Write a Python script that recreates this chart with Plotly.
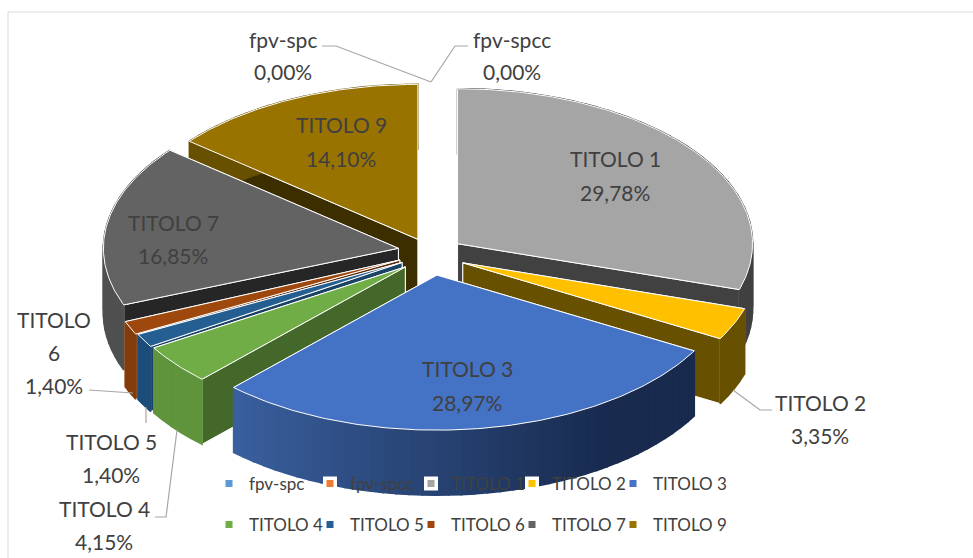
import math
import plotly.graph_objects as go

# ---- data ----
categories = ["fpv-spc", "fpv-spcc", "TITOLO 1", "TITOLO 2", "TITOLO 3",
              "TITOLO 4", "TITOLO 5", "TITOLO 6", "TITOLO 7", "TITOLO 9"]
values = [0.00, 0.00, 29.78, 3.35, 28.97, 4.15, 1.40, 1.40, 16.85, 14.10]

# ---- styles ----
top_colors = ["#5B9BD5", "#ED7D31", "#A5A5A5", "#FFC000", "#4472C4",
              "#70AD47", "#255E91", "#9E480E", "#636363", "#997300"]
cut_colors = ["#3A6A96", "#8F4C1E", "#414141", "#675000", "#1B2C4E",
              "#44672A", "#1A4366", "#5F2B08", "#262626", "#3D2E00"]
rim_left = ["#5B9BD5", "#ED7D31", "#414141", "#675000", "#3A609F",
            "#5F943D", "#1C4D7A", "#843C0C", "#505050", "#675000"]
rim_right = ["#5B9BD5", "#ED7D31", "#414141", "#675000", "#182A4E",
             "#5F943D", "#1C4D7A", "#843C0C", "#505050", "#675000"]
draw_order = ["TITOLO 9", "TITOLO 1", "TITOLO 7", "TITOLO 6", "TITOLO 5",
              "TITOLO 4", "TITOLO 2", "TITOLO 3"]

CX, CY, RX, RY, EXPLODE, DEPTH = 431, 254, 295, 155, 33, 65
TEXT = "#404040"
FONT = "Lato"

# small per-slice placement corrections (layout only)
nudge = {
    "TITOLO 2": (1.5, 2), "TITOLO 3": (1, 4), "TITOLO 4": (0, 2), "TITOLO 5": (0, 3),
    "TITOLO 6": (-1, 4), "TITOLO 7": (0, -3), "TITOLO 9": (1, 1),
}
# the picture has some perspective: thin slices close up toward the centre
apex_nudge = {"TITOLO 5": -3, "TITOLO 6": -5}

# label anchor points per category: (x, y of name line(s)), y of value line
label_lines = {
    "fpv-spc": (283, [39], 71),
    "fpv-spcc": (512, [39], 71),
    "TITOLO 1": (615, [158], 192),
    "TITOLO 2": (820, [402], 435),
    "TITOLO 3": (467, [368], 402),
    "TITOLO 4": (104, [508], 541),
    "TITOLO 5": (111, [441], 474),
    "TITOLO 6": (54, [319, 352], 385),
    "TITOLO 7": (173, [222], 255),
    "TITOLO 9": (341, [124], 158),
}
leaders = [
    ([322, 336, 431], [46, 46, 82]),
    ([468, 455, 431], [46, 46, 82]),
    ([772, 760, 733], [410, 410, 390]),
    ([89, 133], [390, 393]),
    ([146, 146], [407, 423]),
    ([155, 166, 177], [517, 517, 430]),
]


def mix(c1, c2, t):
    a = [int(c1[i:i + 2], 16) for i in (1, 3, 5)]
    b = [int(c2[i:i + 2], 16) for i in (1, 3, 5)]
    return "#" + "".join(f"{round(p + (q - p) * t):02X}" for p, q in zip(a, b))


def pt(ox, oy, deg, r=1.0):
    th = math.radians(deg)
    return ox + RX * r * math.sin(th), oy - RY * r * math.cos(th)


def poly(xs, ys, fill, line="#FFFFFF", width=1.0):
    return go.Scatter(x=xs + xs[:1], y=ys + ys[:1], mode="lines", fill="toself",
                      fillcolor=fill, line=dict(color=line, width=width),
                      hoverinfo="skip", showlegend=False)


# spans of each slice from the values
total = sum(values)
spans = {}
acc = 0.0
for name, v in zip(categories, values):
    spans[name] = (acc / total * 360, (acc + v) / total * 360)
    acc += v

fig = go.Figure()

for name in draw_order:
    i = categories.index(name)
    a0, a1 = spans[name]
    mid_deg = (a0 + a1) / 2
    mid = math.radians(mid_deg)
    dx, dy = nudge.get(name, (0, 0))
    ox = CX + EXPLODE * math.sin(mid) + dx
    oy = CY - EXPLODE * math.cos(mid) * RY / RX + dy
    ay = oy + apex_nudge.get(name, 0)
    # cut faces, the one turned toward the viewer last
    for a in ((a1, a0) if mid_deg > 180 else (a0, a1)):
        x, y = pt(ox, oy, a)
        fig.add_trace(poly([ox, x, x, ox], [ay, y, y + DEPTH, ay + DEPTH], cut_colors[i]))
    # outer rim, in short strips so that it can shade across the width
    n = max(3, int((a1 - a0) / 2.5))
    for k in range(n):
        s0 = a0 + (a1 - a0) * k / n
        s1 = a0 + (a1 - a0) * (k + 1) / n
        x0, y0 = pt(ox, oy, s0)
        x1, y1 = pt(ox, oy, s1)
        t = max(0.0, ((k + 0.5) / n - 0.25) / 0.75)
        col = mix(rim_right[i], rim_left[i], t)
        fig.add_trace(poly([x0, x1, x1, x0], [y0, y1, y1 + DEPTH, y0 + DEPTH], col, col, 1.6))
    # top face
    m = max(4, int((a1 - a0) * 1.5))
    arc = [pt(ox, oy, a0 + (a1 - a0) * k / m) for k in range(m + 1)]
    fig.add_trace(poly([ox] + [p[0] for p in arc], [ay] + [p[1] for p in arc], top_colors[i]))

# leader lines
for lx, ly in leaders:
    fig.add_trace(go.Scatter(x=lx, y=ly, mode="lines", line=dict(color="#A6A6A6", width=1.2),
                             hoverinfo="skip", showlegend=False))

# native legends, one per row
for i, (name, col) in enumerate(zip(categories, top_colors)):
    fig.add_trace(go.Scatter(x=[None], y=[None], mode="markers", name=name,
                             legend="legend" if i < 5 else "legend2",
                             marker=dict(symbol="square", size=10.5, color=col,
                                         line=dict(color="#FFFFFF", width=3.5))))
    if i in (4, 9):  # empty entry keeps the last label from being clipped
        fig.add_trace(go.Scatter(x=[None], y=[None], mode="markers", name="\u00a0",
                                 legend="legend" if i < 5 else "legend2",
                                 marker=dict(symbol="square", size=1, color="rgba(0,0,0,0)",
                                             line=dict(width=0))))

annotations = []
for name, v in zip(categories, values):
    x, name_ys, val_y = label_lines[name]
    parts = name.split(" ") if len(name_ys) == 2 else [name]
    for part, y in zip(parts, name_ys):
        annotations.append(dict(x=x, y=y, text=part, showarrow=False))
    annotations.append(dict(x=x, y=val_y, text=f"{v:.2f}%".replace(".", ","), showarrow=False))

legend_common = dict(orientation="h", xanchor="left", yanchor="middle", bgcolor="rgba(0,0,0,0)",
                     font=dict(family=FONT, size=17, color=TEXT), itemclick=False,
                     itemdoubleclick=False, entrywidth=56, entrywidthmode="pixels",
                     borderwidth=0)

fig.update_layout(
    width=973, height=558, margin=dict(l=0, r=0, t=0, b=0),
    paper_bgcolor="#FFFFFF", plot_bgcolor="#FFFFFF",
    font=dict(family=FONT, size=21, color=TEXT),
    xaxis=dict(range=[0, 973], visible=False, fixedrange=True),
    yaxis=dict(range=[558, 0], visible=False, fixedrange=True),
    annotations=annotations,
    legend=dict(x=209 / 973, y=1 - 484 / 558, **legend_common),
    legend2=dict(x=209 / 973, y=1 - 525 / 558, **legend_common),
    shapes=[
        dict(type="line", x0=8, x1=973, y0=12, y1=12, line=dict(color="#D9D9D9", width=1)),
        dict(type="line", x0=8, x1=8, y0=12, y1=558, line=dict(color="#D9D9D9", width=1)),
    ],
    hovermode=False,
)

fig.write_html("out.html", post_script="document.body.style.margin='0';document.body.style.overflow='hidden';",
               config={"displayModeBar": False})
